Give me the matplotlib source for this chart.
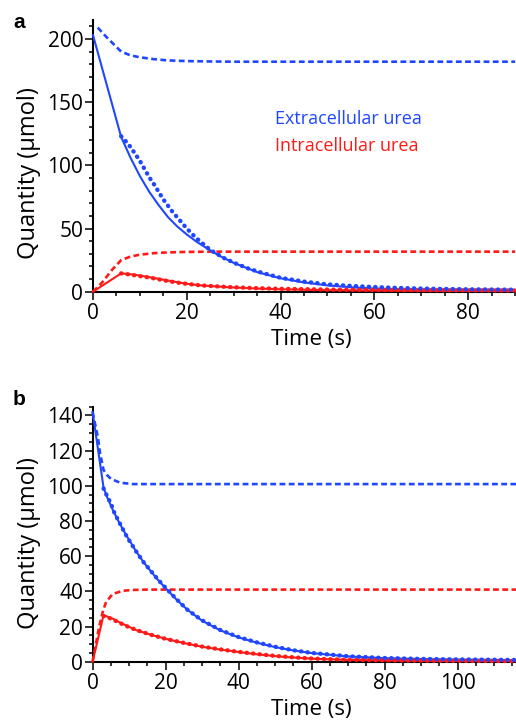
import matplotlib
matplotlib.use("Agg")
import matplotlib.pyplot as plt
from matplotlib.ticker import MultipleLocator

plt.rcParams['font.family'] = ['Open Sans', 'DejaVu Sans']

BLUE = '#2047ff'
RED = '#ff1a1a'

# ---- panel a ----
a_ext_model_t = [0, 6, 8, 10, 12, 14, 16, 18, 20, 22, 24, 27, 30, 35, 40, 45, 50, 55, 60, 70, 80, 90]
a_ext_model = [203, 122.5, 106, 91.5, 79, 68.5, 59, 51.5, 45.3, 39.8, 35, 28.3, 22.8, 15.5, 10.6, 7.3, 5, 3.5, 2.5, 1.4, 0.9, 0.6]

a_ext_data_t = [6, 7, 8, 9, 10, 11, 12, 13, 15, 17, 20, 22, 25, 28, 30, 33, 36, 40, 45, 50, 55, 60, 65, 70, 80, 90]
a_ext_data = [123, 119, 114.5, 109, 103.5, 97, 90.5, 85, 73, 63, 50, 42.5, 33, 26.5, 23, 18.5, 15, 11, 8, 5.8, 4.6, 3.7, 3, 2.5, 1.9, 1.6]

a_ext_eq_t = [1, 3, 6, 8, 10, 13, 16, 20, 25, 30, 90]
a_ext_eq = [209, 201, 190, 187, 185.5, 184, 183, 182.5, 182.2, 182, 182]

a_int_model_t = [0, 6, 8, 10, 12, 14, 16, 18, 20, 23, 26, 30, 35, 40, 50, 60, 70, 90]
a_int_model = [0, 14.5, 13.8, 12.8, 11.5, 10.2, 8.8, 7.5, 6.3, 5, 4.2, 3.3, 2.5, 1.9, 1.2, 0.9, 0.7, 0.5]

a_int_data_t = [6, 8, 10, 12, 14, 16, 18, 20, 23, 26, 30, 35, 40, 50, 60, 70, 80, 90]
a_int_data = [14.5, 13.5, 12.3, 11.2, 9.8, 8.4, 7.2, 6.2, 5, 4.3, 3.5, 2.8, 2.3, 1.7, 1.4, 1.2, 1.1, 1.0]

a_int_eq_t = [0, 2, 4, 6, 8, 10, 13, 16, 20, 25, 90]
a_int_eq = [0, 7.5, 17, 25, 27.8, 29.3, 30.5, 31.1, 31.5, 31.7, 31.7]

# ---- panel b ----
b_ext_model_t = [0, 3, 4, 5.5, 7.3, 9.2, 12, 14, 16, 18, 20, 23, 26, 30, 35, 40, 45, 50, 55, 60, 70, 80, 90, 100, 116]
b_ext_model = [142, 99, 93.5, 86.5, 79, 72, 62.5, 56.5, 51.3, 46.3, 41.8, 35.3, 29.5, 23.3, 17.8, 13.8, 10.8, 8.3, 6.4, 4.9, 3, 2, 1.5, 1.2, 0.9]

b_ext_data_t = [3, 4, 5, 6, 7, 8, 9, 10, 12, 14, 16, 18, 20, 23, 26, 30, 35, 40, 45, 50, 55, 60, 70, 80, 90, 100, 116]
b_ext_data = [98.5, 94, 90, 84.5, 80.5, 76.5, 72.5, 69, 62.5, 56.5, 51.5, 46.5, 42, 35.5, 29.5, 23.5, 18, 14, 11, 8.5, 6.5, 5, 3.1, 2.1, 1.6, 1.3, 1.0]

b_ext_eq_t = [0, 1.5, 2, 3, 4, 5, 7.5, 11, 116]
b_ext_eq = [142, 127, 119, 109, 106, 104, 101.8, 101, 101]

b_int_model_t = [0, 3, 5.5, 7.3, 10, 12, 16.5, 21, 25.7, 30, 35, 40, 45, 52, 60, 70, 80, 90, 100, 116]
b_int_model = [0, 26.5, 24.5, 22.5, 19.8, 17.9, 15, 12.5, 10.3, 8.5, 6.9, 5.5, 4.2, 2.8, 1.7, 1.0, 0.7, 0.5, 0.4, 0.3]

b_int_data_t = [3, 5, 7, 9, 12, 16, 20, 25, 30, 35, 40, 45, 50, 55, 60, 70, 80, 90, 100, 116]
b_int_data = [26, 24.5, 22.5, 20.5, 18, 15.3, 13, 10.7, 8.6, 7, 5.6, 4.4, 3.3, 2.5, 1.8, 1.1, 0.8, 0.6, 0.5, 0.4]

b_int_eq_t = [0, 1.8, 2.8, 3.7, 5.5, 8.2, 11, 15, 116]
b_int_eq = [0, 20, 28.5, 34, 38.5, 40.3, 40.8, 41, 41]


def draw(ax, series):
    for t, v, color, kind in series:
        if kind == 'eq':
            ax.plot(t, v, color=color, lw=1.9, dashes=(2.2, 1.3), clip_on=False, zorder=3)
        elif kind == 'model':
            ax.plot(t, v, color=color, lw=1.5, clip_on=False, zorder=4)
        else:
            # measured points: heavy dotted trace
            ax.plot(t, v, color=color, lw=3.1, dashes=(0.1, 1.4),
                    dash_capstyle='round', clip_on=False, zorder=5)


def style(ax, xmaj, xmin, ymaj, ymin):
    for side in ['top', 'right']:
        ax.spines[side].set_visible(False)
    for side in ['left', 'bottom']:
        ax.spines[side].set_linewidth(1.5)
    ax.xaxis.set_major_locator(MultipleLocator(xmaj))
    ax.xaxis.set_minor_locator(MultipleLocator(xmin))
    ax.yaxis.set_major_locator(MultipleLocator(ymaj))
    ax.yaxis.set_minor_locator(MultipleLocator(ymin))
    ax.tick_params(which='major', length=5.5, width=1.1, labelsize=15, direction='out')
    ax.tick_params(which='minor', length=2.8, width=1.1, direction='out')
    ax.tick_params(axis='y', which='major', pad=1.5)
    ax.tick_params(axis='x', which='major', pad=2.5)


fig = plt.figure(figsize=(5.16, 7.2), dpi=100)

ax_a = fig.add_axes([93 / 516, 1 - 291.7 / 720, 423 / 516, 271.7 / 720])
draw(ax_a, [
    (a_ext_eq_t, a_ext_eq, BLUE, 'eq'),
    (a_int_eq_t, a_int_eq, RED, 'eq'),
    (a_ext_model_t, a_ext_model, BLUE, 'model'),
    (a_int_model_t, a_int_model, RED, 'model'),
    (a_int_data_t, a_int_data, RED, 'data'),
    (a_ext_data_t, a_ext_data, BLUE, 'data'),
])
ax_a.set_xlim(0, 90.2)
ax_a.set_ylim(0, 215)
style(ax_a, 20, 5, 50, 10)
ax_a.text(0.43, 0.617, 'Extracellular urea', color=BLUE, fontsize=13, transform=ax_a.transAxes)
ax_a.text(0.43, 0.519, 'Intracellular urea', color=RED, fontsize=13, transform=ax_a.transAxes)

ax_b = fig.add_axes([92.6 / 516, 1 - 661.7 / 720, 423.4 / 516, 255 / 720])
draw(ax_b, [
    (b_ext_eq_t, b_ext_eq, BLUE, 'eq'),
    (b_int_eq_t, b_int_eq, RED, 'eq'),
    (b_ext_model_t, b_ext_model, BLUE, 'model'),
    (b_int_model_t, b_int_model, RED, 'model'),
    (b_int_data_t, b_int_data, RED, 'data'),
    (b_ext_data_t, b_ext_data, BLUE, 'data'),
])
ax_b.set_xlim(0, 116)
ax_b.set_ylim(0, 145)
style(ax_b, 20, 5, 20, 5)

# axis labels and panel letters
fig.text(0.057, 1 - 173 / 720, 'Quantity (\u00b5mol)', rotation=90, fontsize=17, ha='center', va='center')
fig.text(0.057, 1 - 543 / 720, 'Quantity (\u00b5mol)', rotation=90, fontsize=17, ha='center', va='center')
fig.text(311 / 516, 1 - 339 / 720, 'Time (s)', fontsize=16, ha='center', va='center')
fig.text(311 / 516, 1 - 709 / 720, 'Time (s)', fontsize=16, ha='center', va='center')
fig.text(13 / 516, 1 - 28 / 720, 'a', fontsize=15, fontweight='bold', family='Liberation Sans')
fig.text(13 / 516, 1 - 405 / 720, 'b', fontsize=15, fontweight='bold', family='Liberation Sans')

fig.savefig('out.png', dpi=100)
plt.close(fig)
